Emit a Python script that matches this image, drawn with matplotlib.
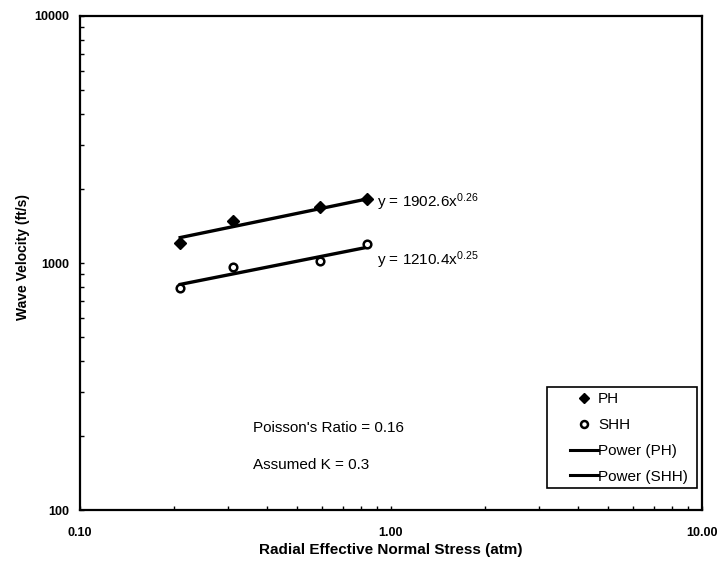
import numpy as np
import matplotlib
matplotlib.use("Agg")
import matplotlib.pyplot as plt
from matplotlib.lines import Line2D
from matplotlib.patches import Rectangle

plt.rcParams['font.family'] = ['Liberation Sans', 'DejaVu Sans']
plt.rcParams['mathtext.default'] = 'regular'

# Data
stress = [0.21, 0.31, 0.59, 0.84]
ph_velocity = [1210, 1485, 1690, 1810]
shh_velocity = [796, 960, 1015, 1190]
ph_fit = (1902.6, 0.26)
shh_fit = (1210.4, 0.25)
x_ticks = [0.1, 1.0, 10.0]
x_tick_labels = ["0.10", "1.00", "10.00"]
y_ticks = [100, 1000, 10000]
y_tick_labels = ["100", "1000", "10000"]

fig = plt.figure(figsize=(7.17, 5.63), dpi=100)
ax = fig.add_axes([0.1116, 0.094, 0.979 - 0.1116, 0.9716 - 0.094])
ax.set_xscale('log')
ax.set_yscale('log')
ax.set_xlim(0.1, 10)
ax.set_ylim(100, 10000)

xs = np.array(stress)
xfit = np.geomspace(xs.min(), xs.max(), 50)
ax.plot(xfit, ph_fit[0] * xfit ** ph_fit[1], color='black', lw=2.4, zorder=2)
ax.plot(xfit, shh_fit[0] * xfit ** shh_fit[1], color='black', lw=2.4, zorder=2)
ax.plot(stress, ph_velocity, linestyle='none', marker='D', ms=6,
        mfc='black', mec='black', zorder=3)
ax.plot(stress, shh_velocity, linestyle='none', marker='o', ms=5.5,
        mfc='white', mec='black', mew=1.8, zorder=3)

ax.text(0.9, 1766, "y = 1902.6x$^{0.26}$", fontsize=11, va='center', ha='left')
ax.text(0.9, 1028, "y = 1210.4x$^{0.25}$", fontsize=11, va='center', ha='left')

ax.text(0.278, 0.166, "Poisson's Ratio = 0.16", transform=ax.transAxes, fontsize=11, va='center')
ax.text(0.278, 0.091, "Assumed K = 0.3", transform=ax.transAxes, fontsize=11, va='center')

ax.set_xticks(x_ticks)
ax.set_xticklabels(x_tick_labels, fontweight='bold', fontsize=9)
ax.set_yticks(y_ticks)
ax.set_yticklabels(y_tick_labels, fontweight='bold', fontsize=9)
ax.tick_params(axis='both', which='both', direction='in', top=False, right=False)
ax.tick_params(axis='both', which='major', length=3, width=1)
ax.tick_params(axis='both', which='minor', length=3, width=1)
ax.tick_params(axis='x', which='major', pad=12)
ax.tick_params(axis='y', which='major', pad=8)
ax.xaxis.set_minor_formatter(matplotlib.ticker.NullFormatter())
ax.yaxis.set_minor_formatter(matplotlib.ticker.NullFormatter())

for s in ax.spines.values():
    s.set_linewidth(1.6)

ax.set_xlabel("Radial Effective Normal Stress (atm)", fontweight='bold', fontsize=11)
ax.xaxis.set_label_coords(0.5, -0.066)
ax.set_ylabel("Wave Velocity (ft/s)", fontweight='bold', fontsize=10)
ax.yaxis.set_label_coords(-0.08, 0.512)

# Legend box
ax.add_patch(Rectangle((0.751, 0.0445), 0.241, 0.204, transform=ax.transAxes,
                       facecolor='white', edgecolor='black', lw=1.2, zorder=4))
handles = [
    Line2D([], [], linestyle='none', marker='D', ms=5.5, mfc='black', mec='black'),
    Line2D([], [], linestyle='none', marker='o', ms=5, mfc='white', mec='black', mew=1.8),
    Line2D([], [], color='black', lw=2.2),
    Line2D([], [], color='black', lw=2.2),
]
labels = ["PH", "SHH", "Power (PH)", "Power (SHH)"]
leg = ax.legend(handles, labels, loc='upper left', bbox_to_anchor=(0.788, 0.238),
                fontsize=11, frameon=False, handlelength=1.83, handletextpad=0.0,
                labelspacing=0.77, borderpad=0, borderaxespad=0)
leg.set_zorder(5)

fig.savefig("out.png", dpi=100)
